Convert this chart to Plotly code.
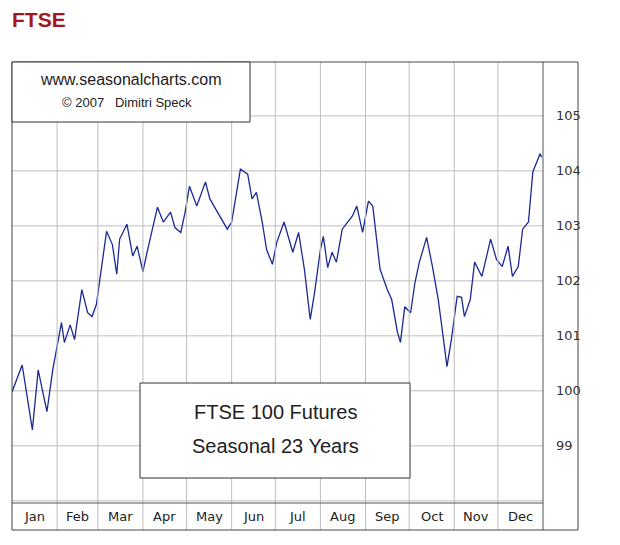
import plotly.graph_objects as go

days = [0,7,14,18,24,28,34,36,40,43,48,52,55,58,65,69,72,74,79,83,86,90,93,97,100,104,109,112,116,119,122,127,133,136,143,148,151,157,162,165,168,172,175,179,182,187,193,197,201,205,208,212,214,217,220,223,227,234,237,241,245,248,253,258,261,265,267,270,274,277,280,285,289,293,296,299,302,306,309,311,315,318,323,329,333,337,341,344,348,351,355,358,363,364]
values = [99.98,100.47,99.29,100.38,99.62,100.38,101.24,100.88,101.20,100.93,101.84,101.42,101.35,101.57,102.90,102.66,102.12,102.76,103.03,102.45,102.63,102.17,102.54,102.99,103.34,103.07,103.25,102.97,102.88,103.25,103.72,103.36,103.80,103.49,103.18,102.94,103.07,104.03,103.94,103.49,103.61,103.07,102.57,102.30,102.70,103.07,102.52,102.88,102.21,101.30,101.79,102.57,102.81,102.24,102.52,102.34,102.94,103.18,103.36,102.88,103.45,103.36,102.21,101.84,101.66,101.06,100.88,101.53,101.42,101.97,102.34,102.79,102.26,101.66,101.06,100.44,100.93,101.72,101.70,101.35,101.66,102.34,102.08,102.76,102.39,102.26,102.63,102.08,102.26,102.94,103.07,103.98,104.31,104.25]
months = ["Jan","Feb","Mar","Apr","May","Jun","Jul","Aug","Sep","Oct","Nov","Dec"]
month_starts = [0,31,59,90,120,151,181,212,243,273,304,334,365]
yticks = [99,100,101,102,103,104,105]

fig = go.Figure(go.Scatter(x=days, y=values, mode="lines",
                           line=dict(color="#1c2a96", width=1.3), hoverinfo="skip"))

shapes = []
for d in month_starts[1:-1]:
    shapes.append(dict(type="line", xref="x", yref="paper", x0=d, x1=d, y0=-27/441, y1=1,
                       line=dict(color="#bdbdbd", width=1)))
for v in [98,99,100,101,102,103,104,105]:
    shapes.append(dict(type="line", xref="paper", yref="y", x0=0, x1=1, y0=v, y1=v,
                       line=dict(color="#bdbdbd", width=1), layer="below"))
shapes.append(dict(type="line", xref="paper", yref="paper", x0=0, x1=1, y0=0, y1=0, line=dict(color="#555", width=1)))
shapes.append(dict(type="line", xref="paper", yref="paper", x0=1, x1=1, y0=-27/441, y1=1, line=dict(color="#555", width=1)))
shapes.append(dict(type="rect", xref="paper", yref="paper", x0=0, x1=566/531, y0=-27/441, y1=1, line=dict(color="#444", width=1)))
shapes.append(dict(type="rect", xref="paper", yref="paper", x0=0, x1=238/531, y0=(503-122)/441, y1=1,
                   line=dict(color="#333", width=1), fillcolor="white"))
shapes.append(dict(type="rect", xref="paper", yref="paper", x0=128/531, x1=398/531, y0=(503-478)/441, y1=(503-383)/441,
                   line=dict(color="#333", width=1), fillcolor="white"))

ann = []
for i, m in enumerate(months):
    ann.append(dict(x=(month_starts[i]+month_starts[i+1])/2, xref="x", y=-13.5/441, yref="paper",
                    xanchor="center", yanchor="middle",
                    text=m, showarrow=False, font=dict(family="DejaVu Sans", size=13, color="#222")))
def box_text(x, y, t, size):
    ann.append(dict(x=x/531, y=(503-y)/441, xref="paper", yref="paper", xanchor="center", yanchor="middle",
                    text=t, showarrow=False, font=dict(family="Liberation Sans", size=size, color="#222")))
box_text(119, 79, "www.seasonalcharts.com", 16)
box_text(115, 103, "©&nbsp;2007&nbsp;&nbsp;&nbsp;Dimitri&nbsp;Speck", 13)
box_text(263, 412, "FTSE 100 Futures", 20)
box_text(263, 446, "Seasonal 23 Years", 20)
ann.append(dict(x=-2/531, y=(503-20)/441, xref="paper", yref="paper", xanchor="left", yanchor="middle",
                text="<b>FTSE</b>", showarrow=False, font=dict(family="Liberation Sans", size=21, color="#a3161f")))

fig.update_layout(
    width=620, height=545, margin=dict(l=4, r=85, t=54, b=50),
    paper_bgcolor="white", plot_bgcolor="white", showlegend=False,
    shapes=shapes, annotations=ann,
    xaxis=dict(range=[0, 365], showgrid=False, showticklabels=False, zeroline=False, fixedrange=True),
    yaxis=dict(range=[97.96, 105.98], side="right", tickvals=yticks, ticktext=[str(t) for t in yticks],
               showgrid=False, zeroline=False, ticks="", ticklabelstandoff=12,
               tickfont=dict(family="DejaVu Sans", size=13, color="#333"), fixedrange=True),
)
fig.write_html("out.html")
